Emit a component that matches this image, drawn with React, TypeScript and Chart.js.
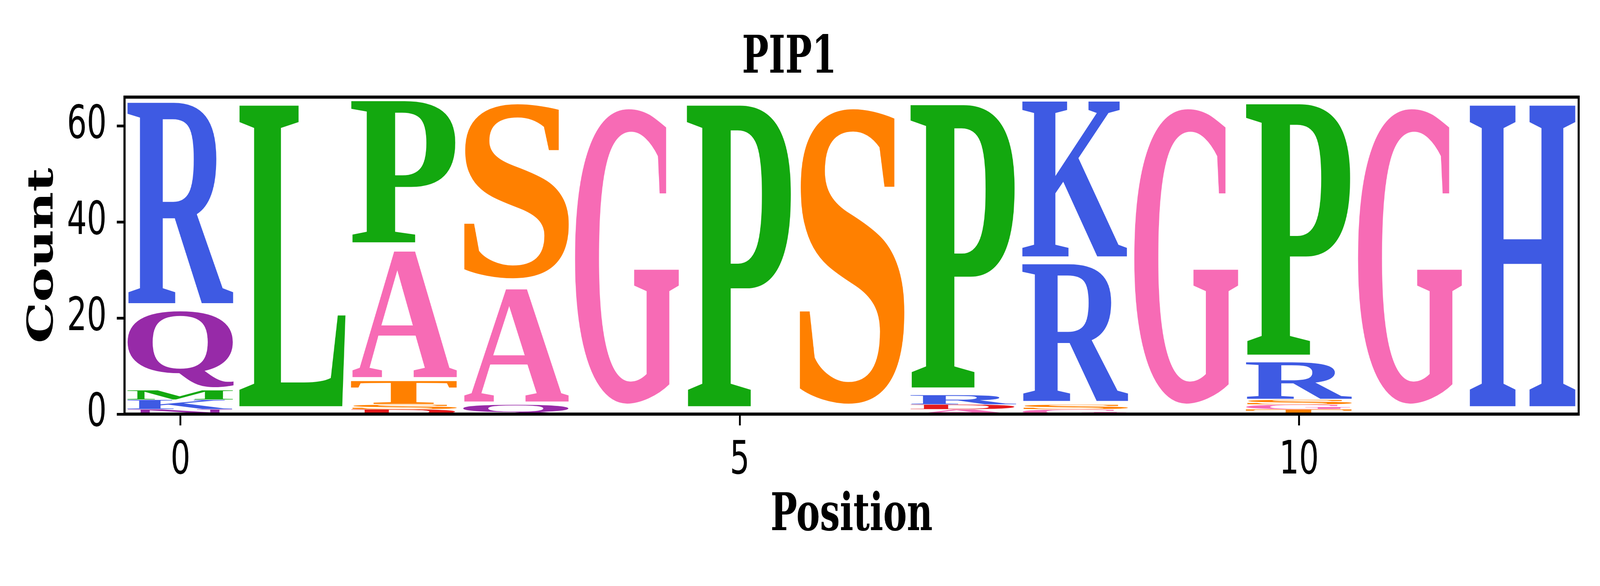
import React, { useEffect, useRef } from "react";
import { Chart, registerables } from "chart.js";

Chart.register(...registerables);

// ---- data ----
const chartTitle = "PIP1";
const xAxisLabel = "Position";
const yAxisLabel = "Count";
const positions = [0, 1, 2, 3, 4, 5, 6, 7, 8, 9, 10, 11, 12];
// letters stacked bottom -> top at each position
const stackLetters: string[][] = [
  ["N", "K", "M", "Q", "R"],
  ["L"],
  ["D", "S", "T", "A", "P"],
  ["Q", "A", "S"],
  ["G"],
  ["P"],
  ["S"],
  ["A", "D", "R", "P"],
  ["G", "S", "R", "K"],
  ["G"],
  ["T", "G", "S", "R", "P"],
  ["G"],
  ["H"],
];
const stackCounts: number[][] = [
  [1, 2, 2, 17, 44],
  [66],
  [1, 1, 5, 28, 31],
  [2, 25, 39],
  [66],
  [66],
  [66],
  [1, 1, 2, 62],
  [1, 1, 30, 34],
  [66],
  [1, 1, 1, 8, 55],
  [66],
  [66],
];
const xTickValues = [0, 5, 10];
const yTickValues = [0, 20, 40, 60];
const yMax = 66;
const letterColors: Record<string, string> = {
  R: "#3e5ae3",
  K: "#3e5ae3",
  H: "#3e5ae3",
  L: "#13a80f",
  P: "#13a80f",
  M: "#13a80f",
  G: "#f76bb5",
  A: "#f76bb5",
  S: "#ff8000",
  T: "#ff8000",
  Q: "#972aa8",
  N: "#972aa8",
  D: "#e31a1c",
};

// ---- style constants ----
const W = 6000;
const H = 1500;
const GLYPH_WIDTH = 0.95;
const VPAD = 0.05;
const GLYPH_FONT = '"Liberation Serif", "Times New Roman", serif';
const LABEL_FONT = '"DejaVu Serif", serif';
const TICK_FONT = '"DejaVu Sans", sans-serif';

function buildDatasets() {
  const letters: string[] = [];
  stackLetters.forEach((col) =>
    col.forEach((l) => {
      if (!letters.includes(l)) letters.push(l);
    })
  );
  return letters.map((letter) => {
    const data: { x: number; y: [number, number] }[] = [];
    positions.forEach((p, i) => {
      let floor = 0;
      stackLetters[i].forEach((l, k) => {
        const c = stackCounts[i][k];
        if (l === letter) data.push({ x: p, y: [floor, floor + c] });
        floor += c;
      });
    });
    return {
      label: letter,
      data,
      glyphColor: letterColors[letter] || "#000",
      backgroundColor: "rgba(0,0,0,0)",
      borderWidth: 0,
      grouped: false,
      barPercentage: GLYPH_WIDTH,
      categoryPercentage: 1,
    } as any;
  });
}

const logoPlugin = {
  id: "logoGlyphs",
  afterDatasetsDraw(chart: any) {
    const ctx = chart.ctx as CanvasRenderingContext2D;
    const xs = chart.scales.x;
    const ys = chart.scales.y;
    const area = chart.chartArea;
    const unit = xs.getPixelForValue(1) - xs.getPixelForValue(0);
    ctx.save();
    ctx.beginPath();
    ctx.rect(area.left, area.top, area.right - area.left, area.bottom - area.top);
    ctx.clip();
    ctx.font = `bold 400px ${GLYPH_FONT}`;
    ctx.textAlign = "left";
    ctx.textBaseline = "alphabetic";
    chart.data.datasets.forEach((ds: any) => {
      const letter = ds.label as string;
      const m = ctx.measureText(letter);
      const inkL = -m.actualBoundingBoxLeft;
      const inkR = m.actualBoundingBoxRight;
      const inkT = -m.actualBoundingBoxAscent;
      const inkB = m.actualBoundingBoxDescent;
      ds.data.forEach((pt: any) => {
        const cx = xs.getPixelForValue(pt.x);
        const left = cx - (unit * GLYPH_WIDTH) / 2;
        const right = cx + (unit * GLYPH_WIDTH) / 2;
        const yTop = ys.getPixelForValue(pt.y[1]);
        const yBot = ys.getPixelForValue(pt.y[0]);
        const h = yBot - yTop;
        const gt = yTop + (h * VPAD) / 2;
        const gb = yBot - (h * VPAD) / 2;
        const sx = (right - left) / (inkR - inkL);
        const sy = (gb - gt) / (inkB - inkT);
        ctx.save();
        ctx.translate(left - inkL * sx, gt - inkT * sy);
        ctx.scale(sx, sy);
        ctx.fillStyle = ds.glyphColor;
        ctx.fillText(letter, 0, 0);
        ctx.restore();
      });
    });
    ctx.restore();
    // axes frame (spines)
    ctx.save();
    ctx.lineWidth = 8;
    ctx.strokeStyle = "#000";
    ctx.strokeRect(area.left, area.top, area.right - area.left, area.bottom - area.top);
    ctx.restore();
  },
};

export default function App() {
  const canvasRef = useRef<HTMLCanvasElement | null>(null);
  const cssW = typeof window !== "undefined" && window.innerWidth ? window.innerWidth : W;
  const cssH = typeof window !== "undefined" && window.innerHeight ? window.innerHeight : H;

  useEffect(() => {
    document.body.style.margin = "0";
    document.body.style.overflow = "hidden";
    if (!canvasRef.current) return;
    const chart = new Chart(canvasRef.current, {
      type: "bar",
      data: { datasets: buildDatasets() },
      options: {
        responsive: false,
        animation: false,
        devicePixelRatio: 1,
        layout: { padding: { left: 0, right: 80, top: 0, bottom: 0 } },
        plugins: {
          legend: { display: false },
          tooltip: { enabled: false },
          title: {
            display: true,
            text: chartTitle,
            color: "#000",
            font: { family: LABEL_FONT, weight: "bold", size: 133, lineHeight: 1.2 },
            padding: { top: 72, bottom: 17 },
          },
        },
        scales: {
          x: {
            type: "linear",
            position: "bottom",
            min: -0.5,
            max: 12.5,
            offset: false,
            afterFit: (s: any) => {
              s.height = 440;
            },
            afterBuildTicks: (s: any) => {
              s.ticks = xTickValues.map((v) => ({ value: v }));
            },
            ticks: {
              color: "#000",
              font: { family: TICK_FONT, size: 117 },
              padding: 22,
              maxRotation: 0,
              autoSkip: false,
              includeBounds: false,
            },
            grid: {
              offset: false,
              drawOnChartArea: false,
              drawTicks: true,
              tickLength: 29,
              tickWidth: 7,
              tickColor: "#000",
            },
            border: { display: false },
            title: {
              display: true,
              text: xAxisLabel,
              color: "#000",
              font: { family: LABEL_FONT, weight: "bold", size: 133, lineHeight: 1.2 },
              padding: { top: 0, bottom: 98 },
            },
          },
          y: {
            type: "linear",
            min: 0,
            max: yMax,
            afterFit: (s: any) => {
              s.width = 467;
            },
            afterBuildTicks: (s: any) => {
              s.ticks = yTickValues.map((v) => ({ value: v }));
            },
            ticks: {
              color: "#000",
              font: { family: TICK_FONT, size: 117 },
              padding: 38,
              includeBounds: false,
            },
            grid: {
              drawOnChartArea: false,
              drawTicks: true,
              tickLength: 29,
              tickWidth: 7,
              tickColor: "#000",
            },
            border: { display: false },
            title: {
              display: true,
              text: yAxisLabel,
              color: "#000",
              font: { family: LABEL_FONT, weight: "bold", size: 133, lineHeight: 1.2 },
              padding: { top: 83, bottom: 0 },
            },
          },
        },
      } as any,
      plugins: [logoPlugin],
    });
    return () => chart.destroy();
  }, []);

  return (
    <div
      style={{
        position: "fixed",
        left: 0,
        top: 0,
        width: cssW,
        height: cssH,
        background: "#fff",
        overflow: "hidden",
      }}
    >
      <canvas
        ref={canvasRef}
        width={W}
        height={H}
        style={{ width: cssW, height: cssH, display: "block" }}
      />
    </div>
  );
}
